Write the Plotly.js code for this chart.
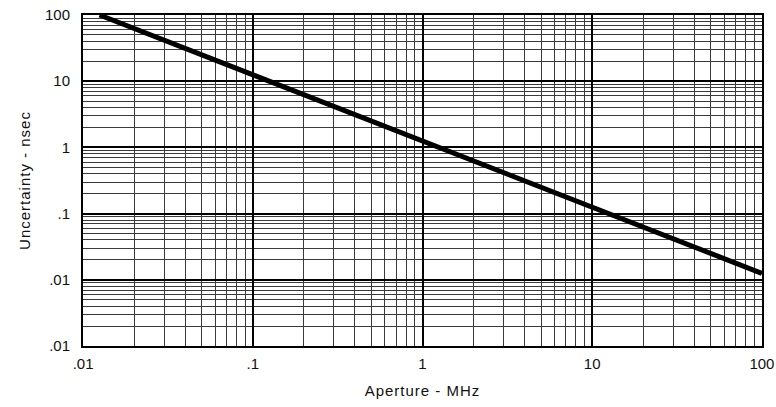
<!DOCTYPE html>
<html>
<head>
<meta charset="utf-8">
<script src="https://cdn.plot.ly/plotly-3.0.1.min.js"></script>
<style>
html,body{margin:0;padding:0;background:#fff;}
#chart{width:776px;height:407px;}
.xtitle,.ytitle{letter-spacing:1px;}
</style>
</head>
<body>
<div id="chart"></div>
<script>
// Aperture (MHz) vs uncertainty (nsec)
const apertureMHz = [0.0125, 0.1, 1, 10, 100];
const uncertaintyNs = [100, 12.5, 1.25, 0.125, 0.0125];

const xTickVals = [0.01, 0.1, 1, 10, 100];
const xTickText = ['.01', '.1', '1', '10', '100'];
const yTickVals = [0.001, 0.01, 0.1, 1, 10, 100];
const yTickText = ['.01', '.01', '.1', '1', '10', '100'];

const tickFont = {family: 'Liberation Sans, Arial, sans-serif', size: 15, color: '#111'};
const titleFont = {family: 'Liberation Sans, Arial, sans-serif', size: 15, color: '#111'};

const trace = {
  x: apertureMHz, y: uncertaintyNs, type: 'scatter', mode: 'lines',
  line: {color: '#000', width: 5}, hoverinfo: 'skip'
};

const axisCommon = {
  type: 'log', showline: true, linecolor: '#000', linewidth: 2, mirror: true,
  showgrid: true, gridcolor: '#000', gridwidth: 2, zeroline: false,
  ticks: '', tickfont: tickFont, ticklabeloverflow: 'allow',
  minor: {dtick: 'D1', showgrid: true, gridcolor: '#3a3a3a', gridwidth: 1, ticks: ''}
};

const layout = {
  width: 776, height: 407,
  margin: {l: 83, r: 14, t: 15, b: 61},
  paper_bgcolor: '#fff', plot_bgcolor: '#fff',
  showlegend: false,
  font: tickFont,
  xaxis: Object.assign({}, axisCommon, {
    range: [-2.0005, 2.0005], tickmode: 'array', tickvals: xTickVals, ticktext: xTickText,
    ticklabelstandoff: 3,
    title: {text: 'Aperture - MHz', font: titleFont, standoff: 14}
  }),
  yaxis: Object.assign({}, axisCommon, {
    range: [-3.0005, 2.0005], tickmode: 'array', tickvals: yTickVals, ticktext: yTickText,
    ticklabelstandoff: 8,
    title: {text: 'Uncertainty - nsec', font: titleFont, standoff: 11}
  })
};

Plotly.newPlot('chart', [trace], layout, {staticPlot: true, displayModeBar: false});
</script>
</body>
</html>
